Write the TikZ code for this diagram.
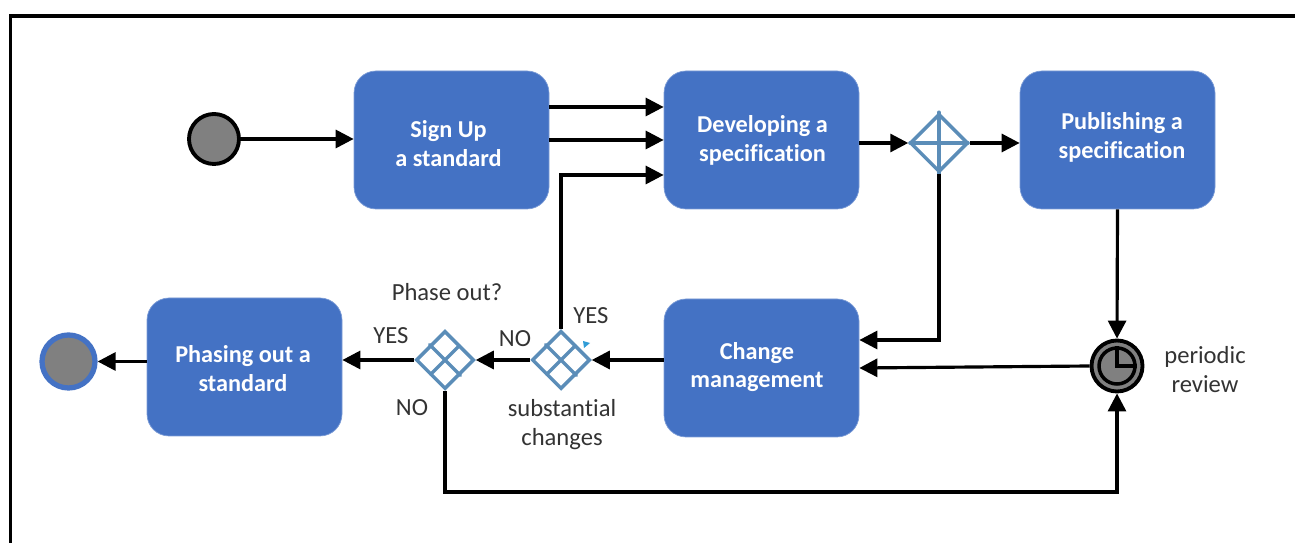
\documentclass[tikz,border=0pt]{standalone}
\usepackage{fontspec}
\setmainfont[Ligatures=NoCommon]{Carlito}
\usetikzlibrary{arrows.meta,shapes.geometric,calc}
\definecolor{taskblue}{HTML}{4472C4}
\definecolor{gateblue}{HTML}{5B8DB8}
\definecolor{eventgray}{HTML}{808080}
\tikzset{
  taskbox/.style={draw=taskblue!70,fill=taskblue,rounded corners=0.44cm,minimum width=3.9cm,minimum height=2.76cm},
  tasktext/.style={align=center,text=white,font=\fontsize{13.8}{16.4}\selectfont\bfseries},
  gate/.style={diamond,draw=gateblue,line width=2pt,inner sep=0pt,minimum size=1.16cm},
  gateline/.style={draw=gateblue,line width=2pt,line cap=round,shorten >=1pt,shorten <=1pt},
  flow/.style={line width=1.8pt,-{Triangle[length=0.36cm,width=0.36cm]}},
  note/.style={align=center,text=black!80,font=\fontsize{14}{16.4}\selectfont},
}
\begin{document}
\begin{tikzpicture}
  \useasboundingbox (0,0) rectangle (25.9,10.86);
  % frame
  \draw[line width=2pt] (0.21,0)--(0.21,10.54)--(25.9,10.54);
  % events
  \node[circle,draw=black,fill=eventgray,line width=2.2pt,minimum size=1cm,inner sep=0pt] (start) at (4.28,8.08) {};
  \node[circle,draw=taskblue,fill=eventgray,line width=3pt,minimum size=1.06cm,inner sep=0pt] (stop) at (1.37,3.63) {};
  % tasks
  \node[taskbox] (signup) at (9.03,8.06) {};
  \node[taskbox] (develop) at (15.23,8.06) {};
  \node[taskbox] (publish) at (22.35,8.06) {};
  \node[taskbox] (change) at (15.23,3.5) {};
  \node[taskbox] (phasing) at (4.89,3.52) {};
  \node[tasktext] (signuptext) at ([xshift=-0.06cm,yshift=-0.07cm]signup.center) {Sign Up\\a standard};
  \node[tasktext] (developtext) at ([xshift=0.02cm,yshift=-0.01cm]develop.center) {Developing a\\specification};
  \node[tasktext] (publishtext) at ([xshift=0.09cm,yshift=0.05cm]publish.center) {Publishing a\\specification};
  \node[tasktext] (changetext) at ([xshift=-0.09cm,yshift=0.02cm]change.center) {Change\\management};
  \node[tasktext] (phasingtext) at ([xshift=-0.03cm,yshift=-0.03cm]phasing.center) {Phasing out a\\standard};
  % gateways
  \node[gate] (split) at (18.78,8) {};
  \draw[gateline] (split.north)--(split.south) (split.west)--(split.east);
  \node[gate] (phaseout) at (8.9,3.66) {};
  \draw[gateline] ($(phaseout.north)!.5!(phaseout.west)$)--($(phaseout.east)!.5!(phaseout.south)$)
    ($(phaseout.north)!.5!(phaseout.east)$)--($(phaseout.west)!.5!(phaseout.south)$);
  \node[gate] (substantial) at (11.22,3.66) {};
  \draw[gateline] ($(substantial.north)!.5!(substantial.west)$)--($(substantial.east)!.5!(substantial.south)$)
    ($(substantial.north)!.5!(substantial.east)$)--($(substantial.west)!.5!(substantial.south)$);
  % timer
  \node[circle,draw=black,fill=eventgray,line width=2.2pt,minimum size=1.02cm,inner sep=0pt] (timer) at (22.34,3.54) {};
  \node[circle,draw=black,line width=2pt,minimum size=0.72cm,inner sep=0pt] (clock) at (timer) {};
  \draw[line width=2pt] (clock.north)--(clock.center)--(clock.east);
  % connectors
  \coordinate (devtop) at ([yshift=0.66cm]signup.east-|develop.west);
  \coordinate (devlow) at ([yshift=-0.7cm]develop.west);
  \coordinate (chgtop) at ([yshift=0.56cm]change.east);
  \coordinate (low) at (8.9,1.02);
  \draw[flow] (start)--(signup.west|-start);
  \draw[flow] ([yshift=0.66cm]signup.east)--(devtop);
  \draw[flow] (signup.east)--(develop.west);
  \draw[flow] (substantial.north)--(substantial.north|-devlow)--(devlow);
  \draw[flow] (develop.east|-split)--(split);
  \draw[flow] (split)--(publish.west|-split);
  \draw[flow] (split.south)--(split.south|-chgtop)--(chgtop);
  \draw[flow] (publish.south)--(timer.north);
  \draw[flow] (timer.west)--(change.east);
  \draw[flow] (change.west|-substantial)--(substantial.east);
  \draw[flow] (substantial.west)--(phaseout.east);
  \draw[flow] (phaseout.west)--(phasing.east|-phaseout);
  \draw[flow] (phasing.west|-stop)--(stop.east);
  \draw[flow] (phaseout.south)--(low)--(low-|timer)--(timer.south);
  % labels
  \node[note] (qphase) at (8.94,5.01) {Phase out?};
  \node[note] (yes1) at (7.82,4.14) {YES};
  \node[note] (no1) at (8.24,2.7) {NO};
  \node[note] (no2) at (10.3,4.08) {NO};
  \node[note] (yes2) at (11.82,4.54) {YES};
  \node[note] (subst) at (11.24,2.37) {substantial\\changes};
  \node[note] (review) at (24.1,3.47) {periodic\\review};
  \fill[taskblue!70!cyan] (11.66,4.04)--(11.8,4)--(11.68,3.9)--cycle;
\end{tikzpicture}
\end{document}
